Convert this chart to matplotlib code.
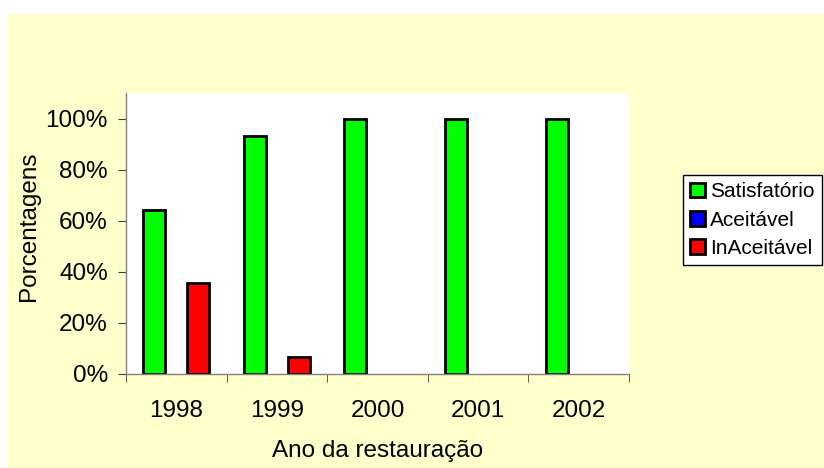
import matplotlib
matplotlib.use('Agg')
import matplotlib.pyplot as plt
import numpy as np
from matplotlib.patches import Rectangle, Patch
from matplotlib.ticker import FixedLocator, PercentFormatter

plt.rcParams['font.family'] = ['Liberation Sans', 'DejaVu Sans']

anos = ['1998', '1999', '2000', '2001', '2002']
satisfatorio = [64.3, 93.3, 100, 100, 100]
aceitavel = [0, 0, 0, 0, 0]
inaceitavel = [35.7, 6.7, 0, 0, 0]

W, H = 824, 468
fig = plt.figure(figsize=(W / 100, H / 100), dpi=100)
fig.patch.set_facecolor('white')
# pale yellow chart area (Excel style)
fig.patches.append(Rectangle((8 / W, 0), 1 - 8 / W, 1 - 14 / H,
                             transform=fig.transFigure, facecolor='#FFFFCC',
                             edgecolor='none', zorder=-5))

ax = fig.add_axes([126 / W, 1 - 374 / H, (629 - 126) / W, (374 - 93) / H])
ax.set_facecolor('white')

x = np.arange(len(anos)) + 0.5
bw = 0.22

def lw(vals):
    # Excel draws nothing for a zero-height bar
    return [2 if v > 0 else 0 for v in vals]

series = [('Satisfatório', satisfatorio, '#00FF00', -bw),
          ('Aceitável', aceitavel, '#0000FF', 0),
          ('InAceitável', inaceitavel, '#FF0000', bw)]
for name, vals, col, off in series:
    ax.bar(x + off, vals, bw, color=col, edgecolor='black', linewidth=lw(vals))

ax.set_xlim(0, len(anos))
ax.set_ylim(0, 110)
ax.set_yticks([0, 20, 40, 60, 80, 100])
ax.yaxis.set_major_formatter(PercentFormatter(decimals=0))
ax.set_xticks(x)
ax.set_xticklabels(anos)
ax.xaxis.set_minor_locator(FixedLocator(np.arange(len(anos) + 1)))

for s in ['top', 'right']:
    ax.spines[s].set_visible(False)
for s in ['left', 'bottom']:
    ax.spines[s].set_color('#808080')
    ax.spines[s].set_linewidth(1)

fs = 17.5
ax.tick_params(axis='y', length=6, color='#404040', labelsize=fs, pad=7)
ax.tick_params(axis='x', which='major', length=0, labelsize=fs, pad=19)
ax.tick_params(axis='x', which='minor', length=6, color='#404040')

fig.text(378 / W, 1 - 451 / H, 'Ano da restauração', fontsize=fs, ha='center', va='center')
fig.text(29 / W, 1 - 226 / H, 'Porcentagens', fontsize=fs, ha='center', va='center', rotation=90)

handles = [Patch(facecolor=col, edgecolor='black', linewidth=2) for _, _, col, _ in series]
labels = [name for name, _, _, _ in series]
leg = fig.legend(handles, labels, loc='upper left', bbox_to_anchor=(683 / W, 1 - 175 / H), fontsize=15,
                 frameon=True, fancybox=False, shadow=False, borderaxespad=0,
                 handlelength=0.7, handleheight=0.7, handletextpad=0.25,
                 labelspacing=0.45, borderpad=0.35, framealpha=1)
leg.get_frame().set_edgecolor('black')
leg.get_frame().set_linewidth(1)
leg.get_frame().set_facecolor('white')

plt.savefig('out.png', dpi=100)
